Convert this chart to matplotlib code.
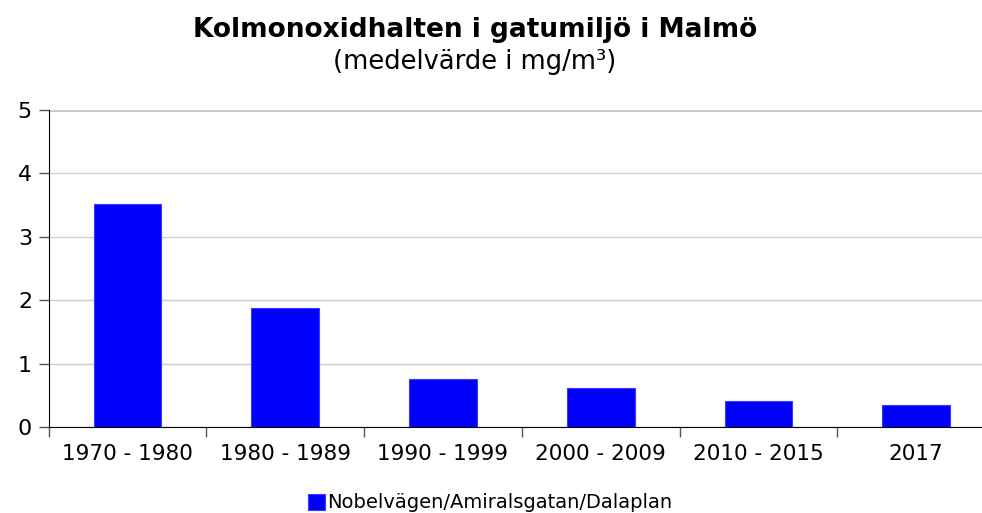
import matplotlib.pyplot as plt
import numpy as np

# data
perioder = ['1970 - 1980', '1980 - 1989', '1990 - 1999', '2000 - 2009', '2010 - 2015', '2017']
co_halt = [3.52, 1.88, 0.76, 0.62, 0.41, 0.34]
serie = 'Nobelvägen/Amiralsgatan/Dalaplan'

W, H = 982, 513
fig = plt.figure(figsize=(W/100, H/100), dpi=100)
# axes runs a bit past the right edge like the original
ax = fig.add_axes([48.7/W, (H-427)/H, (995-48.7)/W, (427-110)/H])

x = np.arange(len(perioder))
bars = ax.bar(x, co_halt, width=0.43, color='#0000ff', edgecolor='#3a3aff',
              linewidth=0.8, label=serie, zorder=3)

ax.set_xlim(-0.5, len(perioder)-0.5)
ax.set_ylim(0, 5)
ax.set_yticks(range(6))
ax.yaxis.grid(True, color='#d0d0d0', linewidth=1, zorder=0)
ax.tick_params(axis='y', length=7, width=1, color='#555555', labelsize=16, pad=5)

# category labels centred, ticks at the category boundaries
ax.set_xticks(x)
ax.set_xticklabels(perioder, fontsize=15.5)
ax.tick_params(axis='x', length=0, pad=12)
ax.set_xticks(np.arange(len(perioder)+1)-0.5, minor=True)
ax.tick_params(axis='x', which='minor', length=7, width=1, color='#555555')

for s in ['top', 'right']:
    ax.spines[s].set_visible(False)
ax.spines['left'].set_color('black')
ax.spines['bottom'].set_color('black')
ax.spines['bottom'].set_zorder(4)
ax.axhline(5, color='#c0c0c0', linewidth=2, zorder=1)

fig.text(475/W, 1-30/H, 'Kolmonoxidhalten i gatumiljö i Malmö', ha='center', va='center',
         fontsize=19, fontweight='bold')
fig.text(475/W, 1-62/H, '(medelvärde i mg/m³)', ha='center', va='center', fontsize=18.5)

fig.legend(handles=[bars], labels=[serie], loc='center', bbox_to_anchor=(490/W, 1-503/H),
           frameon=False, fontsize=14, handlelength=0.85, handleheight=0.85,
           handletextpad=0.1, borderaxespad=0)

fig.savefig('out.png', dpi=100)
